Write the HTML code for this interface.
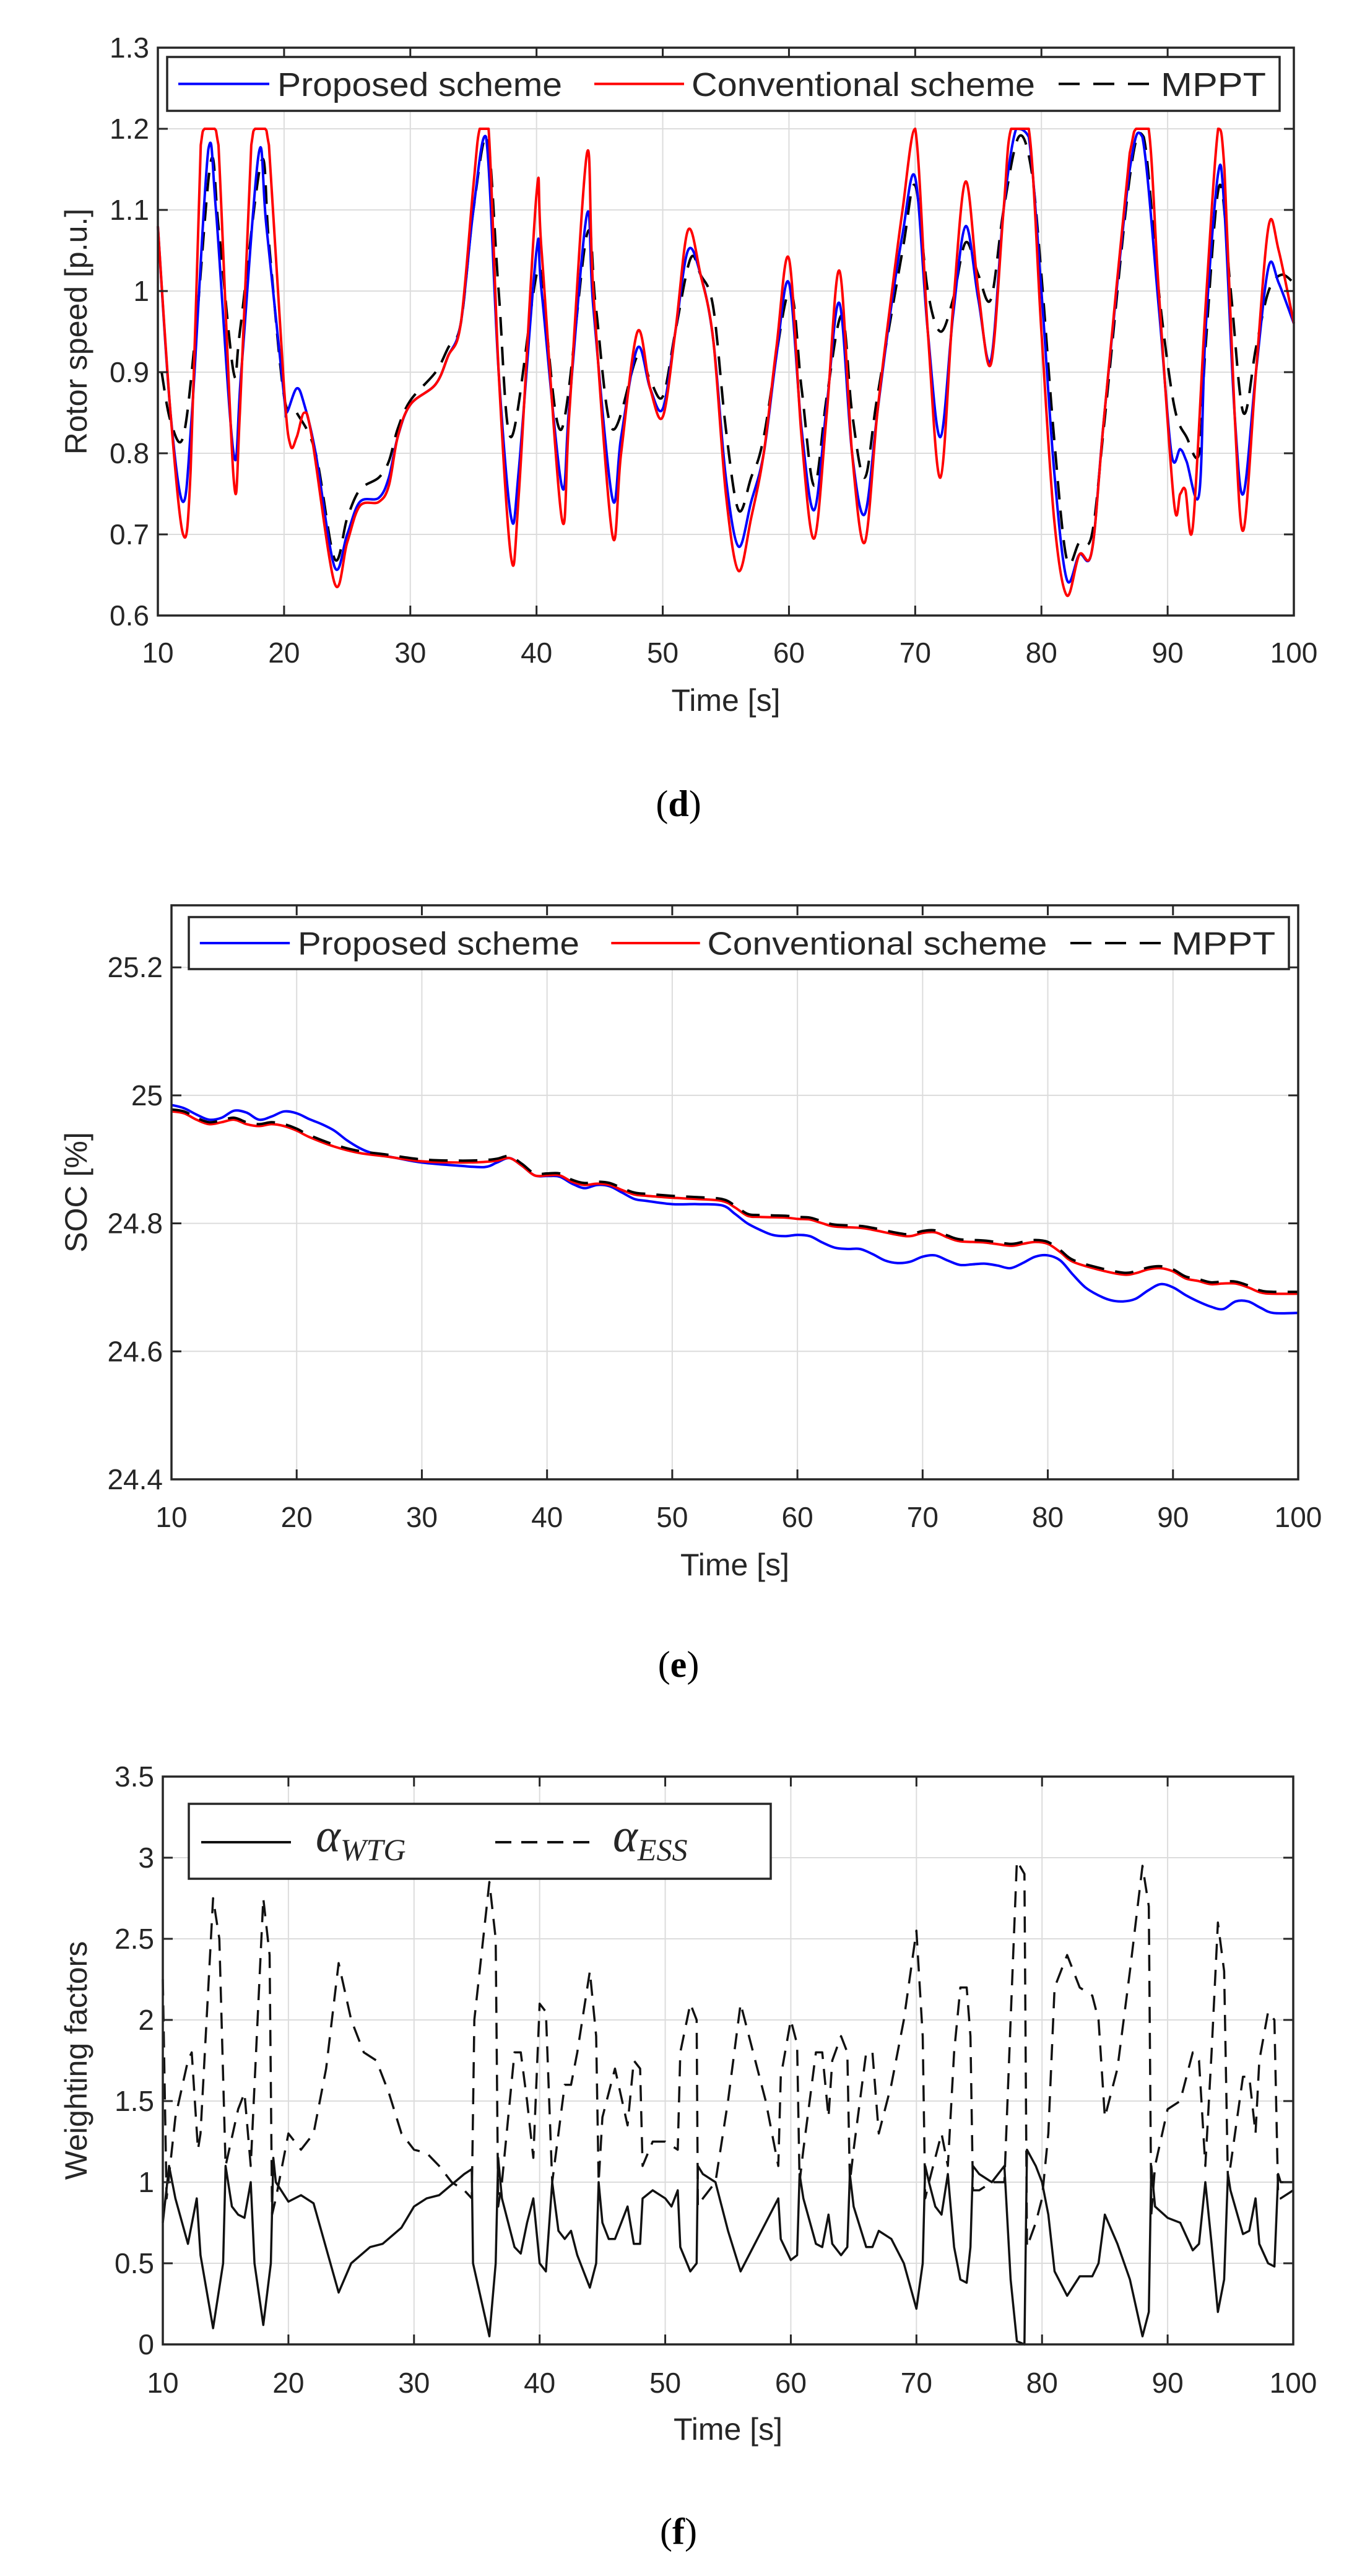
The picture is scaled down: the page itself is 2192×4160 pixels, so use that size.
<!DOCTYPE html>
<html><head><meta charset="utf-8">
<style>
html,body{margin:0;padding:0;background:#fff;}
svg{display:block;}
text{font-family:"Liberation Sans",sans-serif;fill:#262626;}
.cap{font-family:"Liberation Serif",serif;fill:#000;}
</style></head>
<body>
<svg id="s" width="2192" height="4160" viewBox="0 0 2192 4160" xmlns="http://www.w3.org/2000/svg">
<rect width="2192" height="4160" fill="#fff"/>
<g id="g"></g>
<text class="cap" x="1096" y="1318" font-size="60" text-anchor="middle">(<tspan font-weight="bold">d</tspan>)</text>
<text class="cap" x="1096" y="2708" font-size="60" text-anchor="middle">(<tspan font-weight="bold">e</tspan>)</text>
<text class="cap" x="1096" y="4108" font-size="60" text-anchor="middle">(<tspan font-weight="bold">f</tspan>)</text>
</svg>
<script>
const NS="http://www.w3.org/2000/svg";
const G=document.getElementById('g');
function el(t,a,txt){const e=document.createElementNS(NS,t);for(const k in a)e.setAttribute(k,a[k]);if(txt!==undefined)e.textContent=txt;G.appendChild(e);return e;}
function smoothPath(P,clampMin){
 let d='M'+P[0][0].toFixed(1)+','+P[0][1].toFixed(1);
 for(let i=0;i<P.length-1;i++){
  const p0=P[i-1]||P[i],p1=P[i],p2=P[i+1],p3=P[i+2]||P[i+1];
  let c1x=p1[0]+(p2[0]-p0[0])/6,c1y=p1[1]+(p2[1]-p0[1])/6;
  let c2x=p2[0]-(p3[0]-p1[0])/6,c2y=p2[1]-(p3[1]-p1[1])/6;
  if(clampMin!==undefined){c1y=Math.max(clampMin,c1y);c2y=Math.max(clampMin,c2y);}
  d+=` C${c1x.toFixed(1)},${c1y.toFixed(1)} ${c2x.toFixed(1)},${c2y.toFixed(1)} ${p2[0].toFixed(1)},${p2[1].toFixed(1)}`;
 }
 return d;
}
function chart(c){
 const X=t=>c.l+(t-10)*(c.r-c.l)/90, Y=v=>c.b-(v-c.y0)*(c.b-c.t)/(c.y1-c.y0);
 for(let t=20;t<100;t+=10) el('line',{x1:X(t),x2:X(t),y1:c.t,y2:c.b,stroke:'#dcdcdc','stroke-width':2});
 c.yt.forEach(v=>{ if(Y(v)>c.t+2&&Y(v)<c.b-2) el('line',{x1:c.l,x2:c.r,y1:Y(v),y2:Y(v),stroke:'#dcdcdc','stroke-width':2});});
 c.series.forEach(s=>{
  const P=s.d.map(p=>[X(p[0]),Y(p[1])]);
  let a;
  if(c.smooth){a={d:smoothPath(P,c.clamp!==undefined?Y(c.clamp):undefined),fill:'none',stroke:s.c,'stroke-width':s.w||4,'stroke-linejoin':'round'};}
  else a={points:P.map(p=>p[0].toFixed(1)+','+p[1].toFixed(1)).join(' '),fill:'none',stroke:s.c,'stroke-width':s.w||4,'stroke-linejoin':'round'};
  if(s.dash)a['stroke-dasharray']=s.dash;
  el(c.smooth?'path':'polyline',a);
 });
 el('rect',{x:c.l,y:c.t,width:c.r-c.l,height:c.b-c.t,fill:'none',stroke:'#262626','stroke-width':3.5});
 for(let t=10;t<=100;t+=10){el('line',{x1:X(t),x2:X(t),y1:c.b,y2:c.b-16,stroke:'#262626','stroke-width':3});el('line',{x1:X(t),x2:X(t),y1:c.t,y2:c.t+16,stroke:'#262626','stroke-width':3});
  el('text',{x:X(t),y:c.tl,'font-size':46,'text-anchor':'middle'},String(t));}
 c.yt.forEach(v=>{const y=Y(v);el('line',{x1:c.l,x2:c.l+16,y1:y,y2:y,stroke:'#262626','stroke-width':3});el('line',{x1:c.r,x2:c.r-16,y1:y,y2:y,stroke:'#262626','stroke-width':3});
  el('text',{x:c.l-14,y:y+16,'font-size':46,'text-anchor':'end'},c.fmt(v));});
 el('text',{x:(c.l+c.r)/2,y:c.xl,'font-size':50,'text-anchor':'middle'},'Time [s]');
 el('text',{x:0,y:0,'font-size':50,'text-anchor':'middle',transform:`translate(${c.yx},${(c.t+c.b)/2}) rotate(-90)`},c.ylab);
 return {X,Y};
}
function lg3(L,T,R,B){
 el('rect',{x:L,y:T,width:R-L,height:B-T,fill:'#fff',stroke:'#262626','stroke-width':3.5});
 const m=(T+B)/2, f=Math.round((B-T)*0.62);
 const tot=R-L, s=tot/1797;
 el('line',{x1:L+18*s,x2:L+165*s,y1:m,y2:m,stroke:'#0000ff','stroke-width':4});
 el('text',{x:L+178*s,y:m+f*0.36,'font-size':f,textLength:460*s,lengthAdjust:'spacingAndGlyphs'},'Proposed scheme');
 el('line',{x1:L+690*s,x2:L+835*s,y1:m,y2:m,stroke:'#ff0000','stroke-width':4});
 el('text',{x:L+847*s,y:m+f*0.36,'font-size':f,textLength:555*s,lengthAdjust:'spacingAndGlyphs'},'Conventional scheme');
 el('line',{x1:L+1440*s,x2:L+1597*s,y1:m,y2:m,stroke:'#000','stroke-width':4,'stroke-dasharray':'34,22'});
 el('text',{x:L+1605*s,y:m+f*0.36,'font-size':f,textLength:170*s,lengthAdjust:'spacingAndGlyphs'},'MPPT');
}
const red=[[10,1.08],[11,0.85],[12,0.70],[12.6,0.78],[13.4,1.18],[13.7,1.2],[14.5,1.2],[14.8,1.18],[16,0.77],[16.5,0.85],[17.4,1.18],[17.7,1.2],[18.5,1.2],[18.8,1.18],[20,0.88],[20.5,0.81],[21,0.82],[21.6,0.85],[22.2,0.82],[24,0.64],[25,0.69],[26,0.735],[27.5,0.74],[28.3,0.76],[29,0.82],[30,0.86],[32,0.885],[33,0.92],[34,0.96],[35,1.13],[35.5,1.2],[36.2,1.2],[37,0.9],[38,0.67],[38.6,0.75],[40,1.12],[40.4,1.05],[42,0.72],[42.6,0.85],[44,1.17],[44.5,1.0],[46,0.70],[46.7,0.8],[48,0.95],[49,0.88],[50,0.845],[51,0.95],[52,1.075],[53,1.02],[54,0.94],[55,0.75],[56,0.655],[57,0.72],[58,0.8],[59,0.93],[60,1.04],[61,0.82],[62,0.695],[63,0.85],[64,1.025],[65,0.8],[66,0.69],[67,0.85],[68,0.98],[69,1.1],[70,1.2],[71,0.95],[72,0.77],[73,0.98],[74,1.135],[75,1.0],[76,0.91],[77,1.1],[77.6,1.2],[79,1.2],[80,0.95],[81,0.72],[82,0.625],[83,0.675],[84,0.68],[85,0.85],[87,1.17],[87.5,1.2],[88.5,1.2],[89.3,1.0],[90.5,0.74],[91,0.75],[91.4,0.755],[92,0.71],[93,0.98],[94,1.2],[94.5,1.15],[95.3,0.85],[96,0.705],[97,0.9],[98,1.08],[98.8,1.05],[100,0.96]];
const blue=[[10,1.08],[11,0.85],[12,0.74],[12.7,0.85],[14,1.175],[14.6,1.1],[16,0.8],[16.6,0.9],[18,1.17],[18.6,1.08],[20,0.87],[20.2,0.85],[21,0.88],[21.6,0.86],[22.5,0.8],[24,0.66],[25,0.70],[26,0.74],[27.5,0.745],[28.3,0.77],[29,0.82],[30,0.86],[32,0.885],[33,0.92],[34,0.96],[35,1.1],[36,1.19],[37,0.9],[38,0.72],[38.6,0.78],[40,1.05],[40.4,1.0],[42,0.76],[42.6,0.86],[44,1.095],[44.5,0.98],[46,0.745],[46.7,0.82],[48,0.93],[49,0.88],[50,0.855],[51,0.95],[52,1.05],[53,1.02],[54,0.94],[55,0.77],[56,0.685],[57,0.74],[58,0.8],[59,0.92],[60,1.01],[61,0.83],[62,0.73],[63,0.86],[64,0.985],[65,0.8],[66,0.725],[67,0.85],[68,0.97],[69,1.07],[70,1.14],[71,0.95],[72,0.82],[73,0.97],[74,1.08],[75,0.99],[76,0.915],[77,1.1],[78,1.2],[79,1.19],[80,1.0],[81,0.78],[82,0.645],[83,0.675],[84,0.68],[85,0.85],[87,1.15],[88,1.19],[89.3,0.98],[90.3,0.8],[91,0.805],[91.5,0.79],[92.5,0.75],[93,0.95],[94,1.145],[94.5,1.1],[95.3,0.85],[96,0.75],[97,0.9],[98,1.03],[98.8,1.01],[100,0.96]];
const mppt=[[10.3,0.9],[11,0.84],[12,0.82],[13,0.95],[14.2,1.16],[14.8,1.08],[16,0.9],[16.5,0.95],[18.2,1.16],[18.8,1.06],[20,0.87],[21,0.85],[22.5,0.80],[24,0.67],[25,0.72],[26,0.755],[27.5,0.77],[28.3,0.79],[29,0.83],[30,0.865],[32,0.9],[33,0.93],[34,0.96],[35,1.1],[36.1,1.19],[37,1.0],[38,0.82],[40,1.02],[40.6,0.98],[42,0.83],[44,1.07],[44.7,0.98],[46,0.83],[48,0.92],[49,0.89],[50,0.87],[51,0.95],[52.2,1.04],[53,1.02],[54,0.98],[55,0.83],[56,0.73],[57,0.77],[58,0.82],[60,1.0],[61,0.88],[62,0.76],[63,0.87],[64.2,0.97],[65,0.85],[66,0.77],[67,0.87],[69,1.05],[70,1.13],[71,1.0],[72,0.95],[73,0.99],[74,1.06],[75,1.02],[76,0.99],[77,1.1],[78.2,1.19],[79.2,1.15],[80,1.02],[81,0.82],[82,0.67],[83,0.69],[84,0.7],[85,0.84],[87,1.14],[88.1,1.19],[89.3,1.0],[90.5,0.86],[91.5,0.82],[92.5,0.8],[93,0.93],[94.1,1.13],[95,1.0],[96,0.85],[97,0.93],[98,1.0],[99,1.02],[100,1.01]];
chart({l:255,r:2090,t:77,b:994,y0:0.6,y1:1.3,yt:[0.6,0.7,0.8,0.9,1,1.1,1.2,1.3],fmt:v=>String(+v.toFixed(1)),tl:1070,xl:1148,yx:140,ylab:'Rotor speed [p.u.]',smooth:true,clamp:1.2,
 series:[{d:mppt,c:'#000',w:4,dash:'30,18'},{d:blue,c:'#0000ff',w:4},{d:red,c:'#ff0000',w:4}]});
lg3(270,92,2067,179);
const sr=[[10,24.975],[11,24.972],[12,24.962],[13,24.955],[14,24.958],[15,24.962],[16,24.955],[17,24.952],[18,24.955],[19,24.952],[20,24.945],[21,24.935],[23,24.92],[25,24.91],[27,24.905],[30,24.897],[33,24.895],[35,24.896],[36,24.898],[37,24.902],[38,24.89],[39,24.875],[40,24.875],[41,24.875],[42,24.865],[43,24.86],[44,24.862],[45,24.86],[46,24.852],[47,24.845],[48,24.843],[50,24.84],[52,24.838],[54,24.835],[55,24.825],[56,24.812],[57,24.81],[59,24.809],[60,24.807],[61,24.806],[62,24.8],[63,24.795],[65,24.793],[66,24.79],[68,24.782],[69,24.78],[70,24.785],[71,24.786],[72,24.778],[73,24.772],[75,24.77],[77,24.765],[78,24.768],[79,24.771],[80,24.768],[81,24.755],[82,24.74],[84,24.728],[86,24.72],[87,24.722],[88,24.728],[89,24.73],[90,24.725],[91,24.714],[92,24.71],[93,24.705],[94,24.706],[95,24.706],[96,24.7],[97,24.692],[98,24.69],[100,24.69]];
const sm=sr.map(p=>[p[0],p[1]+0.003]);
const sb=[[10,24.985],[11,24.98],[12,24.97],[13,24.962],[14,24.965],[15,24.976],[16,24.973],[17,24.962],[18,24.967],[19,24.975],[20,24.972],[21,24.963],[22,24.955],[23,24.945],[24,24.93],[25,24.918],[26,24.91],[28,24.902],[30,24.895],[33,24.89],[35,24.888],[36,24.895],[37,24.902],[38,24.89],[39,24.875],[40,24.874],[41,24.873],[42,24.862],[43,24.855],[44,24.86],[45,24.858],[46,24.848],[47,24.838],[48,24.835],[50,24.83],[52,24.83],[54,24.828],[55,24.815],[56,24.8],[57,24.79],[58,24.782],[59,24.78],[60,24.782],[61,24.78],[62,24.77],[63,24.762],[64,24.76],[65,24.76],[66,24.752],[67,24.742],[68,24.738],[69,24.74],[70,24.748],[71,24.75],[72,24.742],[73,24.735],[74,24.736],[75,24.737],[76,24.734],[77,24.73],[78,24.738],[79,24.748],[80,24.75],[81,24.742],[82,24.72],[83,24.7],[84,24.688],[85,24.68],[86,24.678],[87,24.682],[88,24.695],[89,24.705],[90,24.7],[91,24.688],[92,24.678],[93,24.67],[94,24.666],[95,24.678],[96,24.678],[97,24.668],[98,24.66],[100,24.66]];
chart({l:277,r:2097,t:1462,b:2389,y0:24.4,y1:25.297,yt:[24.4,24.6,24.8,25,25.2],fmt:v=>String(+v.toFixed(1)),tl:2466,xl:2544,yx:140,ylab:'SOC [%]',smooth:true,
 series:[{d:sb,c:'#0000ff',w:4},{d:sr,c:'#ff0000',w:4},{d:sm,c:'#000',w:4,dash:'30,18'}]});
lg3(305,1481,2082,1565);
const wt=[[10,0.75],[10.5,1.1],[11,0.9],[12,0.62],[12.7,0.9],[13,0.55],[14,0.1],[14.8,0.5],[15,1.1],[15.5,0.85],[16,0.8],[16.5,0.78],[17,1.0],[17.3,0.5],[18,0.12],[18.6,0.5],[18.8,1.15],[19,1.0],[20,0.88],[21,0.92],[22,0.87],[24,0.32],[25,0.5],[26.5,0.6],[27.5,0.62],[29,0.72],[30,0.85],[31,0.9],[32,0.92],[34,1.05],[34.6,1.08],[34.7,0.5],[36,0.05],[36.5,0.5],[36.7,1.15],[37,0.9],[38,0.6],[38.5,0.56],[39,0.75],[39.5,0.9],[40,0.5],[40.5,0.45],[41,1.0],[41.5,0.7],[42,0.65],[42.5,0.7],[43,0.55],[44,0.35],[44.5,0.5],[44.7,1.0],[45,0.75],[45.5,0.65],[46,0.65],[47,0.85],[47.5,0.62],[48,0.62],[48.2,0.9],[49,0.95],[50,0.9],[50.5,0.85],[51,0.95],[51.2,0.6],[52,0.45],[52.5,0.5],[52.6,1.1],[53,1.05],[54,1.0],[55,0.7],[56,0.45],[57,0.6],[58,0.75],[59,0.9],[59.2,0.65],[60,0.52],[60.5,0.55],[60.7,1.05],[61,0.9],[62,0.62],[62.5,0.6],[63,0.8],[63.3,0.62],[64,0.55],[64.5,0.6],[64.7,1.05],[65,0.85],[66,0.6],[66.5,0.6],[67,0.7],[68,0.65],[69,0.5],[70,0.22],[70.5,0.5],[70.7,1.1],[71,1.0],[71.5,0.85],[72,0.8],[72.5,1.05],[73,0.6],[73.5,0.4],[74,0.38],[74.3,0.6],[74.5,1.1],[75,1.05],[76,1.0],[76.5,1.05],[77,1.1],[77.5,0.4],[78,0.02],[78.6,0.0],[78.8,1.2],[79.5,1.1],[80,1.0],[80.5,0.8],[81,0.45],[82,0.3],[83,0.42],[84,0.42],[84.5,0.5],[85,0.8],[86,0.62],[87,0.4],[88,0.05],[88.5,0.2],[88.7,1.1],[89,0.85],[90,0.78],[91,0.75],[92,0.58],[92.5,0.62],[93,1.0],[93.5,0.62],[94,0.2],[94.5,0.4],[94.8,1.05],[95,0.95],[96,0.68],[96.5,0.7],[97,0.9],[97.3,0.62],[98,0.5],[98.5,0.48],[98.8,1.05],[99,1.0],[100,1.0]];
const we=[[10,2.25],[10.3,0.9],[11,1.4],[12,1.75],[12.3,1.8],[12.8,1.2],[13,1.3],[14,2.75],[14.5,2.5],[15,1.1],[16,1.45],[16.5,1.55],[17,1.1],[18,2.75],[18.5,2.4],[18.7,0.8],[19,0.9],[20,1.3],[21,1.2],[22,1.3],[23,1.7],[24,2.35],[25,2.0],[26,1.8],[27,1.75],[28,1.55],[29,1.3],[30,1.2],[31,1.18],[32,1.1],[33,1.0],[34,0.95],[34.6,0.9],[34.8,2.0],[36,2.85],[36.5,2.5],[36.7,0.85],[37,1.0],[38,1.8],[38.5,1.8],[39,1.5],[39.5,1.15],[40,2.1],[40.5,2.05],[41,1.0],[42,1.6],[42.5,1.6],[43,1.8],[44,2.3],[44.5,1.9],[44.7,1.0],[45,1.4],[46,1.7],[47,1.35],[47.5,1.75],[48,1.7],[48.2,1.1],[49,1.25],[50,1.25],[51,1.2],[51.2,1.8],[52,2.1],[52.5,2.0],[52.6,0.85],[53,0.9],[54,1.0],[55,1.5],[56,2.1],[57,1.8],[58,1.5],[59,1.1],[59.2,1.65],[60,2.0],[60.5,1.85],[60.7,1.0],[61,1.2],[62,1.8],[62.5,1.8],[63,1.4],[63.3,1.75],[64,1.9],[64.5,1.8],[64.7,1.0],[65,1.2],[66,1.8],[66.5,1.8],[67,1.3],[68,1.6],[69,2.0],[70,2.55],[70.5,1.9],[70.7,0.9],[71,1.0],[72,1.3],[72.5,1.1],[73,1.8],[73.5,2.2],[74,2.2],[74.3,1.9],[74.5,0.95],[75,0.95],[76,1.0],[77,1.0],[77.5,2.0],[78,2.98],[78.6,2.9],[78.8,0.6],[79.5,0.75],[80,0.9],[80.5,1.3],[81,2.2],[82,2.4],[83,2.2],[84,2.15],[84.5,2.0],[85,1.4],[86,1.7],[87,2.3],[88,2.95],[88.5,2.7],[88.7,0.8],[89,1.1],[90,1.45],[91,1.5],[92,1.8],[92.5,1.75],[93,1.1],[93.5,1.8],[94,2.6],[94.5,2.3],[94.8,1.0],[95,1.1],[96,1.65],[96.5,1.65],[97,1.3],[97.3,1.75],[98,2.05],[98.5,2.0],[98.8,0.9],[99,0.9],[100,0.95]];
chart({l:263,r:2089,t:2869,b:3786,y0:0,y1:3.5,yt:[0,0.5,1,1.5,2,2.5,3,3.5],fmt:v=>String(v),tl:3864,xl:3940,yx:140,ylab:'Weighting factors',
 series:[{d:wt,c:'#111',w:3.5},{d:we,c:'#111',w:3.5,dash:'26,16'}]});
el('rect',{x:305,y:2913,width:940,height:121,fill:'#fff',stroke:'#262626','stroke-width':3.5});
el('line',{x1:325,x2:470,y1:2975,y2:2975,stroke:'#111','stroke-width':4});
const t1=el('text',{x:510,y:2990,'font-size':76,'font-style':'italic',style:'font-family:"Liberation Serif",serif'},'α');
const s1=document.createElementNS(NS,'tspan');s1.setAttribute('font-size',50);s1.setAttribute('dy',14);s1.textContent='WTG';t1.appendChild(s1);
el('line',{x1:800,x2:960,y1:2975,y2:2975,stroke:'#111','stroke-width':4,'stroke-dasharray':'26,16'});
const t2=el('text',{x:990,y:2990,'font-size':76,'font-style':'italic',style:'font-family:"Liberation Serif",serif'},'α');
const s2=document.createElementNS(NS,'tspan');s2.setAttribute('font-size',50);s2.setAttribute('dy',14);s2.textContent='ESS';t2.appendChild(s2);
</script>
</body></html>
